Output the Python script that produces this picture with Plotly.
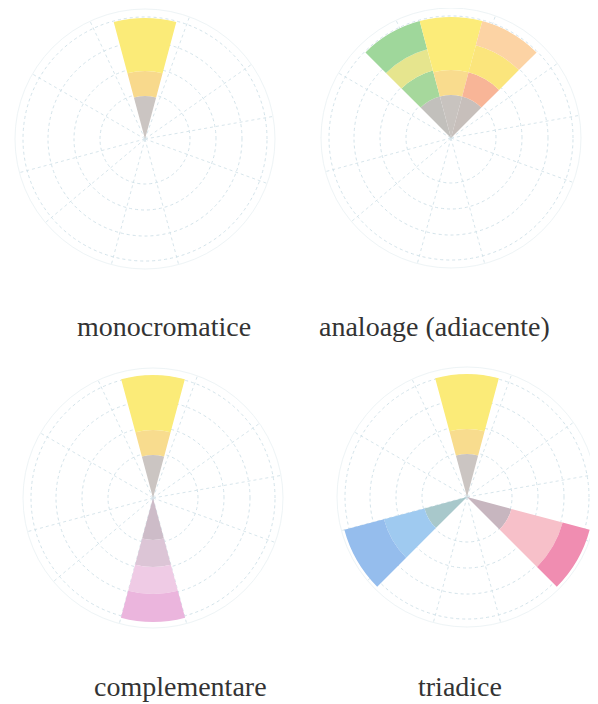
import plotly.graph_objects as go

# ---- data ----
titles = ["monocromatice", "analoage (adiacente)", "complementare", "triadice"]

# each chart: wedges with direction (deg, clockwise from top),
# ring outer radii (inner->outer) and ring colours
mono_theta = [0]
mono_edges = [[43, 68, 121]]
mono_colors = [["#cbc5c2", "#f8d98c", "#fbeb78"]]

anal_theta = [330, 0, 30]
anal_edges = [[43, 70, 92, 121], [43, 68, 121], [43, 68, 96, 121]]
anal_colors = [["#c2c0bc", "#a6d89c", "#e6e58e", "#9fd79b"],
               ["#c8c3bf", "#f9dc8e", "#fcec79"],
               ["#c7bfbb", "#f8b597", "#fbe57c", "#fcd3a4"]]

comp_theta = [0, 180]
comp_edges = [[43, 68, 123], [42, 69, 96, 124]]
comp_colors = [["#cbc5c2", "#f8dc8e", "#fbeb78"],
               ["#cdbcc8", "#dcc5d6", "#efcbe5", "#ebb5dd"]]

tri_theta = [0, 120, 240]
tri_edges = [[43, 68, 123], [46, 99, 127], [44, 86, 127]]
tri_colors = [["#cbc5c2", "#f8dc8e", "#fbeb78"],
              ["#c7b6bf", "#f7c0c9", "#f08db1"],
              ["#a8c8cb", "#9fcaf0", "#95bded"]]

charts = [(mono_theta, mono_edges, mono_colors),
          (anal_theta, anal_edges, anal_colors),
          (comp_theta, comp_edges, comp_colors),
          (tri_theta, tri_edges, tri_colors)]

grid_r = [45, 71, 97, 122]
spoke_angles = [20, 55, 80, 110, 165, 195, 230, 255, 300, 335]
wedge_width = 30
r_max = 130

# ---- figure ----
W, H = 590, 696  # page body adds an 8px margin
fig = go.Figure()
for i, (thetas, edges, cols) in enumerate(charts):
    sub = "polar" if i == 0 else f"polar{i+1}"
    for th, ed, co in zip(thetas, edges, cols):
        base = 0
        for outer, c in zip(ed, co):
            fig.add_trace(go.Barpolar(
                theta=[th], r=[outer - base], base=[base], width=[wedge_width],
                marker=dict(color=c, line=dict(width=0)),
                subplot=sub, showlegend=False, hoverinfo="skip"))
            base = outer

domains = [
    dict(x=[0.011864, 0.452542], y=[0.625, 0.998563]),
    dict(x=[0.530508, 0.971186], y=[0.626437, 1.0]),
    dict(x=[0.025424, 0.466102], y=[0.109195, 0.482759]),
    dict(x=[0.557627, 0.998305], y=[0.110632, 0.484195]),
]

for i, dom in enumerate(domains):
    key = "polar" if i == 0 else f"polar{i+1}"
    fig.update_layout({key: dict(
        domain=dom,
        bgcolor="white",
        barmode="overlay",
        radialaxis=dict(range=[0, r_max], tickvals=grid_r, showticklabels=False,
                        ticks="", showline=False, gridcolor="#d3e3ea",
                        griddash="dot", gridwidth=1, layer="below traces"),
        angularaxis=dict(rotation=90, direction="clockwise",
                         tickvals=spoke_angles,
                         showticklabels=False, ticks="", gridcolor="#d8e6ec",
                         griddash="dot", gridwidth=1, showline=True,
                         linecolor="#eef4f6", linewidth=1, layer="below traces"),
    )})

label_x = [156, 426, 172, 452]
for k, (t, px) in enumerate(zip(titles, label_x)):
    if k < 2:
        y, ya = 1 - 318 / H, "middle"
    else:
        y, ya = 0, "bottom"
    fig.add_annotation(text=t, x=px / W, y=y, xref="paper", yref="paper",
                       xanchor="center", yanchor=ya, showarrow=False,
                       font=dict(family="Liberation Serif", size=28, color="#333333"))

fig.update_layout(width=W, height=H, margin=dict(l=0, r=0, t=0, b=0),
                  paper_bgcolor="white", plot_bgcolor="white")

fig.write_html("out.html")
